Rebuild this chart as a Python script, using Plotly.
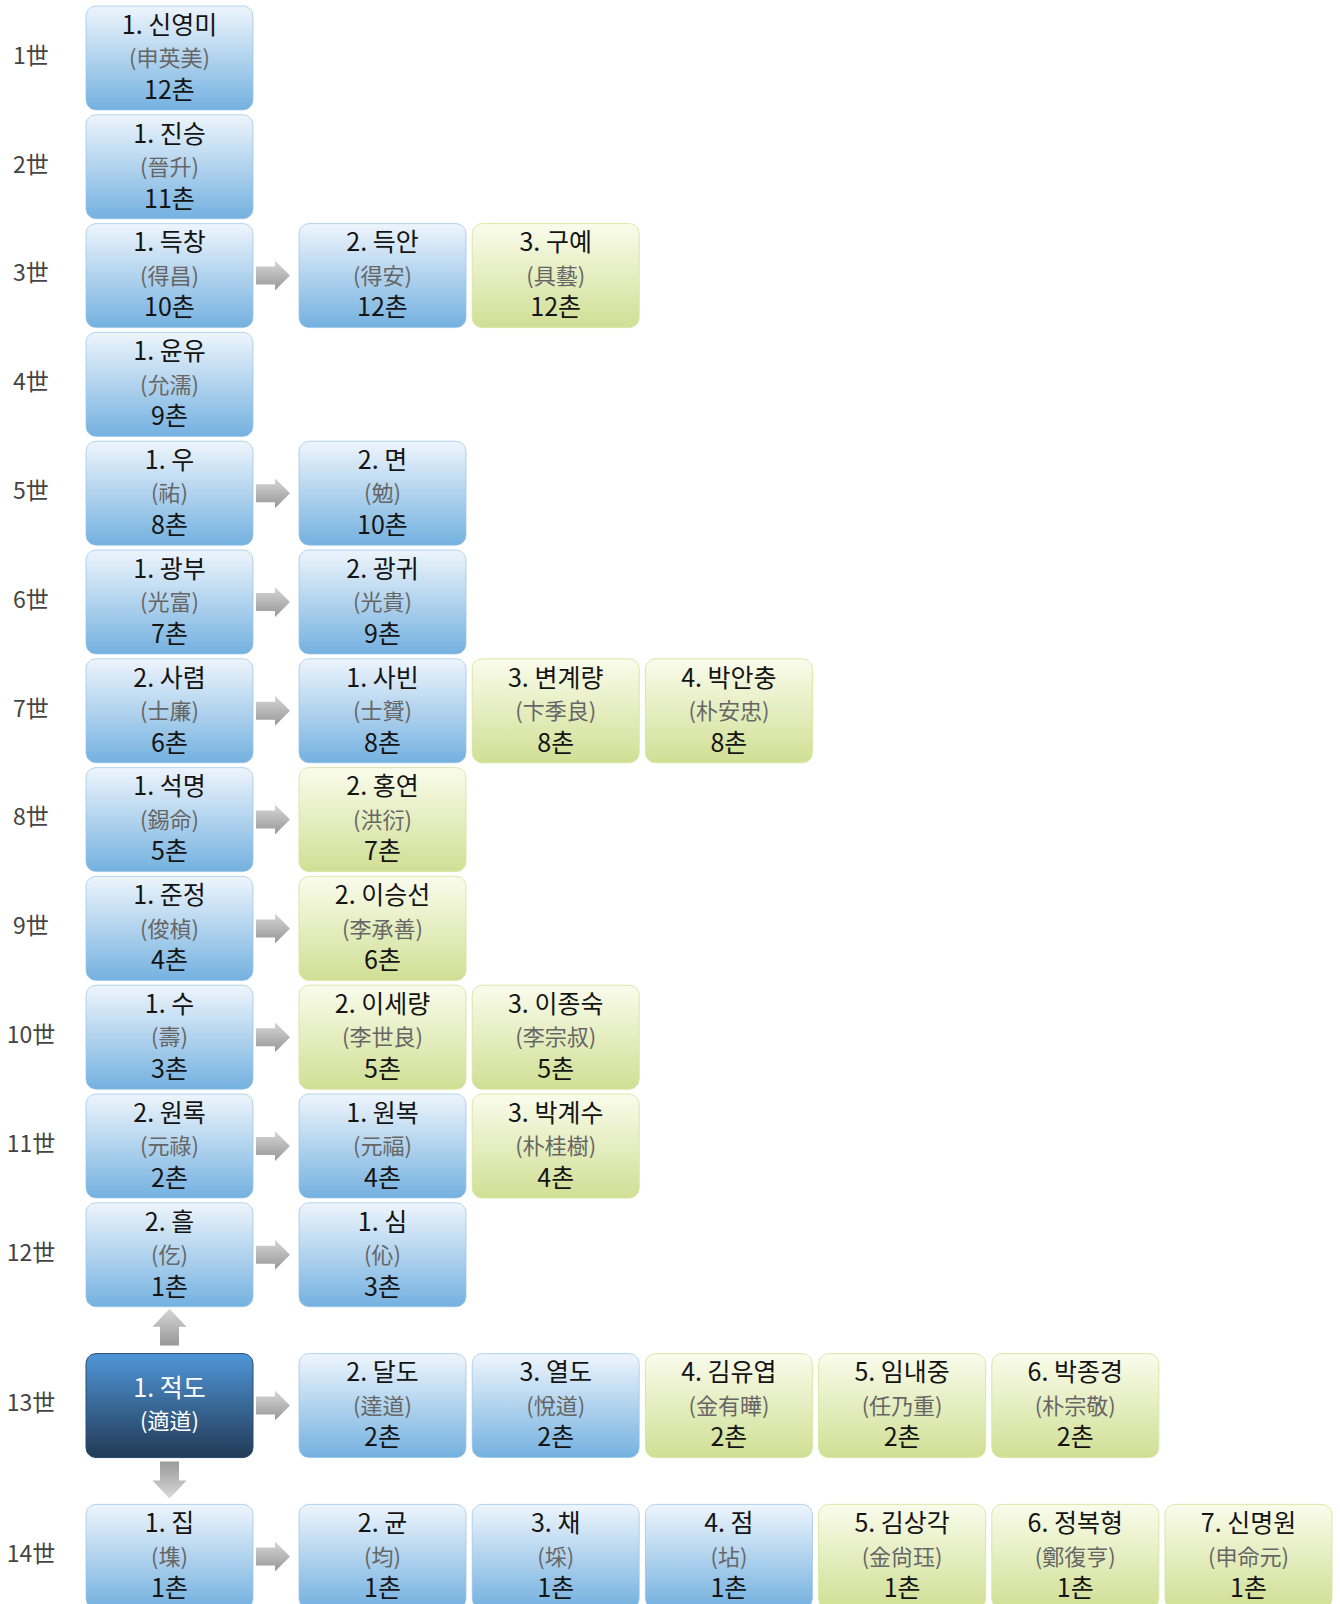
import math
import plotly.graph_objects as go

# generation labels
generations = ["1世", "2世", "3世", "4世", "5世", "6世", "7世",
               "8世", "9世", "10世", "11世", "12世", "13世", "14世"]

# one list per generation, left to right
names = [
    ["1. 신영미"],
    ["1. 진승"],
    ["1. 득창", "2. 득안", "3. 구예"],
    ["1. 윤유"],
    ["1. 우", "2. 면"],
    ["1. 광부", "2. 광귀"],
    ["2. 사렴", "1. 사빈", "3. 변계량", "4. 박안충"],
    ["1. 석명", "2. 홍연"],
    ["1. 준정", "2. 이승선"],
    ["1. 수", "2. 이세량", "3. 이종숙"],
    ["2. 원록", "1. 원복", "3. 박계수"],
    ["2. 흘", "1. 심"],
    ["1. 적도", "2. 달도", "3. 열도", "4. 김유엽", "5. 임내중", "6. 박종경"],
    ["1. 집", "2. 균", "3. 채", "4. 점", "5. 김상각", "6. 정복형", "7. 신명원"],
]
hanja = [
    ["申英美"],
    ["晉升"],
    ["得昌", "得安", "具藝"],
    ["允濡"],
    ["祐", "勉"],
    ["光富", "光貴"],
    ["士廉", "士贇", "卞季良", "朴安忠"],
    ["錫命", "洪衍"],
    ["俊楨", "李承善"],
    ["壽", "李世良", "李宗叔"],
    ["元祿", "元福", "朴桂樹"],
    ["仡", "伈"],
    ["適道", "達道", "悅道", "金有曄", "任乃重", "朴宗敬"],
    ["㙫", "均", "埰", "坫", "金尙珏", "鄭復亨", "申命元"],
]
chon = [
    ["12촌"],
    ["11촌"],
    ["10촌", "12촌", "12촌"],
    ["9촌"],
    ["8촌", "10촌"],
    ["7촌", "9촌"],
    ["6촌", "8촌", "8촌", "8촌"],
    ["5촌", "7촌"],
    ["4촌", "6촌"],
    ["3촌", "5촌", "5촌"],
    ["2촌", "4촌", "4촌"],
    ["1촌", "3촌"],
    ["", "2촌", "2촌", "2촌", "2촌", "2촌"],
    ["1촌", "1촌", "1촌", "1촌", "1촌", "1촌", "1촌"],
]
# b = 본가(blue), g = 외가/타성(green), d = 본인(dark)
kinds = [
    ["b"], ["b"], ["b", "b", "g"], ["b"], ["b", "b"], ["b", "b"],
    ["b", "b", "g", "g"], ["b", "g"], ["b", "g"], ["b", "g", "g"],
    ["b", "b", "g"], ["b", "b"],
    ["d", "b", "b", "g", "g", "g"],
    ["b", "b", "b", "b", "g", "g", "g"],
]

W, H = 1340, 1604
BOX_W, BOX_H = 167, 104
COL0_X = 86
COL1_X = 299
COL_STEP = 173.2
ROW_Y0 = 6
ROW_STEP = 108.8
SELF_GAP = 42  # extra room above/below the 본인 row for the arrows

# colorscale 0 = bottom of the box (y axis is reversed)
STYLE = {
    "b": dict(top="#eef5fc", bot="#74b1e0", line="rgba(150,195,230,0.7)",
              name="#141414", sub="#666666"),
    "g": dict(top="#fafcec", bot="#d0df94", line="rgba(215,228,160,0.9)",
              name="#141414", sub="#666666"),
    "d": dict(top="#4f96d8", bot="#223a56", line="#2a4a6e",
              name="#ffffff", sub="#ffffff"),
}
FONT = "Noto Sans CJK KR"


def col_x(j):
    return COL0_X if j == 0 else COL1_X + (j - 1) * COL_STEP


def row_y(i):
    return ROW_Y0 + i * ROW_STEP + SELF_GAP * max(0, i - 11)


def rounded_rect(x0, y0, x1, y1, r=10, n=8):
    xs, ys = [], []
    corners = [(x0 + r, y0 + r, 180), (x1 - r, y0 + r, 270),
               (x1 - r, y1 - r, 0), (x0 + r, y1 - r, 90)]
    for cx, cy, a0 in corners:
        for k in range(n + 1):
            a = math.radians(a0 + 90 * k / n)
            xs.append(cx + r * math.cos(a))
            ys.append(cy + r * math.sin(a))
    xs.append(xs[0])
    ys.append(ys[0])
    return xs, ys


fig = go.Figure()

text_groups = {}  # color -> [xs, ys, texts]


def add_text(x, y, t, color):
    g = text_groups.setdefault(color, [[], [], []])
    g[0].append(x)
    g[1].append(y)
    g[2].append(t)


arrow_grad = dict(type="vertical", colorscale=[[0, "#979797"], [1, "#d6d6d6"]])
label_x, label_y, label_t = [], [], []

for i, gen in enumerate(generations):
    top = row_y(i)
    cy = top + BOX_H / 2
    label_x.append(31)
    label_y.append(cy)
    label_t.append(gen)

    for j, nm in enumerate(names[i]):
        k = kinds[i][j]
        st = STYLE[k]
        x0 = col_x(j)
        xs, ys = rounded_rect(x0, top, x0 + BOX_W, top + BOX_H)
        fig.add_trace(go.Scatter(
            x=xs, y=ys, mode="lines", fill="toself",
            line=dict(color=st["line"], width=1),
            fillgradient=dict(type="vertical",
                              colorscale=[[0, st["bot"]], [1, st["top"]]]),
            hoverinfo="skip", showlegend=False,
        ))
        xc = x0 + BOX_W / 2
        sub = (f"<span style='color:{st['sub']};font-size:22px'>"
               f"({hanja[i][j]})</span>")
        if chon[i][j]:
            add_text(xc, top + 54, f"{nm}<br>{sub}<br>{chon[i][j]}", st["name"])
        else:
            add_text(xc, top + 53, f"{nm}<br>{sub}", st["name"])

    # right arrow between first and second box
    if len(names[i]) > 1:
        xa = COL0_X + BOX_W + 3
        xb = COL1_X - 9
        xm = xb - 15
        ax = [xa, xm, xm, xb, xm, xm, xa, xa]
        ay = [cy - 9, cy - 9, cy - 15, cy, cy + 15, cy + 9, cy + 9, cy - 9]
        fig.add_trace(go.Scatter(
            x=ax, y=ay, mode="lines", fill="toself", line=dict(width=0),
            fillgradient=arrow_grad, hoverinfo="skip", showlegend=False,
        ))

# vertical arrows around the 본인 box
self_row = 12
xc = COL0_X + BOX_W / 2
# up arrow (to the father)
y_tip = row_y(self_row - 1) + BOX_H + 2
y_base = row_y(self_row) - 8
y_neck = y_tip + 18
fig.add_trace(go.Scatter(
    x=[xc, xc + 17, xc + 9.5, xc + 9.5, xc - 9.5, xc - 9.5, xc - 17, xc],
    y=[y_tip, y_neck, y_neck, y_base, y_base, y_neck, y_neck, y_tip],
    mode="lines", fill="toself", line=dict(width=0),
    fillgradient=arrow_grad, hoverinfo="skip", showlegend=False,
))
# down arrow (to the sons)
y_base = row_y(self_row) + BOX_H + 4
y_tip = row_y(self_row + 1) - 6
y_neck = y_tip - 18
fig.add_trace(go.Scatter(
    x=[xc - 9.5, xc + 9.5, xc + 9.5, xc + 17, xc, xc - 17, xc - 9.5, xc - 9.5],
    y=[y_base, y_base, y_neck, y_neck, y_tip, y_neck, y_neck, y_base],
    mode="lines", fill="toself", line=dict(width=0),
    fillgradient=dict(type="vertical",
                      colorscale=[[0, "#d8d8d8"], [1, "#9a9a9a"]]),
    hoverinfo="skip", showlegend=False,
))

fig.add_trace(go.Scatter(
    x=label_x, y=label_y, text=label_t, mode="text",
    textposition="middle center",
    textfont=dict(family=FONT, size=23, color="#444444"),
    hoverinfo="skip", showlegend=False,
))
for color, (xs, ys, ts) in text_groups.items():
    fig.add_trace(go.Scatter(
        x=xs, y=ys, text=ts, mode="text", textposition="middle center",
        textfont=dict(family=FONT, size=25, color=color),
        hoverinfo="skip", showlegend=False,
    ))

fig.update_layout(
    width=W, height=H,
    margin=dict(l=0, r=0, t=0, b=0),
    paper_bgcolor="white",
    plot_bgcolor="white",
    xaxis=dict(range=[0, W], visible=False, fixedrange=True),
    yaxis=dict(range=[H, 0], visible=False, fixedrange=True),
)

# drop the browser's default 8px body margin so the chart sits at 0,0
fig.write_html("out.html", config={"displayModeBar": False},
               post_script="document.body.style.margin='0';")
